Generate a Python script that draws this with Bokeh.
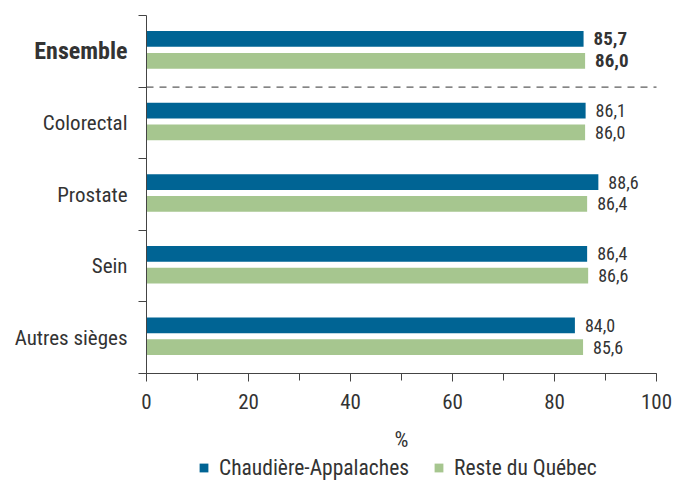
from bokeh.plotting import figure
from bokeh.models import (ColumnDataSource, LabelSet, Range1d, LinearAxis,
                          FixedTicker, SingleIntervalTicker, Legend, LegendItem)
from bokeh.core.properties import value
from bokeh.embed import file_html
from bokeh.resources import INLINE

# ---- data ----
categories = ["Ensemble", "Colorectal", "Prostate", "Sein", "Autres sièges"]
chaudiere = [85.7, 86.1, 88.6, 86.4, 84.0]
reste = [86.0, 86.0, 86.4, 86.6, 85.6]
series_names = ["Chaudière-Appalaches", "Reste du Québec"]
x_label = "%"
X_MIN, X_MAX = 0, 100

FONT = "Roboto Condensed"
TXT = "#333333"
BLUE = "#006494"
GREEN = "#A6C68F"
AX = "#444444"

n = len(categories)
idx = list(range(n))
weights = ["bold" if i == 0 else "normal" for i in idx]
vsizes = ["19px" if i == 0 else "18px" for i in idx]
csizes = ["24px" if i == 0 else "21px" for i in idx]

def fmt(v):
    return f"{v:.1f}".replace(".", ",")

src_a = ColumnDataSource(dict(y=[i + 0.328 for i in idx], v=chaudiere,
                              lab=[fmt(v) for v in chaudiere], w=weights, fs=vsizes))
src_b = ColumnDataSource(dict(y=[i + 0.632 for i in idx], v=reste,
                              lab=[fmt(v) for v in reste], w=weights, fs=vsizes))
src_c = ColumnDataSource(dict(y=[i + 0.5 for i in idx], x=[X_MIN] * n,
                              lab=categories, w=weights, fs=csizes))

# ---- layout (pixels) ----
W, H = 679, 480
PLOT_L, PLOT_R = 146, 656        # x = 0 .. 100
PLOT_T, PLOT_B = 15, 373         # category boundaries 0 .. n
ppx = (PLOT_R - PLOT_L) / (X_MAX - X_MIN)
ppy = (PLOT_B - PLOT_T) / n
x_range = Range1d(X_MIN - PLOT_L / ppx, X_MAX + (W - PLOT_R) / ppx)
y_range = Range1d(n + (H - PLOT_B) / ppy, -PLOT_T / ppy)

p = figure(width=W, height=H, output_backend="svg", toolbar_location=None,
           x_range=x_range, y_range=y_range,
           x_axis_location=None, y_axis_location=None, min_border=0)
p.outline_line_color = None
p.grid.grid_line_color = None
p.background_fill_color = "white"
p.border_fill_color = "white"

ra = p.hbar(y="y", right="v", left=X_MIN, height=0.22, source=src_a,
            fill_color=BLUE, line_color=None)
rb = p.hbar(y="y", right="v", left=X_MIN, height=0.22, source=src_b,
            fill_color=GREEN, line_color=None)

# separator under "Ensemble"
p.segment(x0=[X_MIN], x1=[X_MAX], y0=[1], y1=[1], line_color="#333333",
          line_width=1, line_dash="7 6")

# value labels
for s in (src_a, src_b):
    p.add_layout(LabelSet(x="v", y="y", text="lab", source=s, x_offset=10,
                          text_baseline="middle", text_align="left",
                          text_font=value(FONT), text_font_size={"field": "fs"},
                          text_font_style={"field": "w"}, text_color=TXT))

# category labels
p.add_layout(LabelSet(x="x", y="y", text="lab", source=src_c, x_offset=-19,
                      text_baseline="middle", text_align="right",
                      text_font=value(FONT), text_font_size={"field": "fs"},
                      text_font_style={"field": "w"}, text_color=TXT))

# y axis: line at x=0, ticks at category boundaries
ya = LinearAxis(fixed_location=X_MIN, bounds=(0, n),
                ticker=FixedTicker(ticks=list(range(n + 1))),
                major_label_overrides={i: "" for i in range(n + 1)},
                major_label_text_font_size="1px",
                axis_line_color=AX, major_tick_line_color=AX,
                major_tick_in=0, major_tick_out=8, minor_tick_line_color=None)
p.add_layout(ya, "left")

# x axis at the bottom boundary
xa = LinearAxis(fixed_location=n, bounds=(X_MIN, X_MAX),
                ticker=SingleIntervalTicker(interval=20, num_minor_ticks=2),
                axis_line_color=AX, major_tick_line_color=AX,
                minor_tick_line_color=AX,
                major_tick_in=0, major_tick_out=8,
                minor_tick_in=0, minor_tick_out=7,
                major_label_text_font=FONT, major_label_text_font_size="21px",
                major_label_text_color=TXT, major_label_standoff=12,
                axis_label=x_label, axis_label_text_font=FONT,
                axis_label_text_font_size="22px",
                axis_label_text_font_style="normal",
                axis_label_text_color=TXT, axis_label_standoff=15)
p.add_layout(xa, "below")

legend = Legend(items=[LegendItem(label=series_names[0], renderers=[ra]),
                       LegendItem(label=series_names[1], renderers=[rb])],
                orientation="horizontal", location=(198, 0),
                glyph_width=11, glyph_height=11, label_standoff=10,
                spacing=24, padding=0, margin=0,
                label_text_font=FONT, label_text_font_size="21.5px",
                label_text_color=TXT, border_line_color=None,
                background_fill_alpha=0)
p.add_layout(legend, "center")

open("out.html", "w").write(file_html(p, INLINE))
